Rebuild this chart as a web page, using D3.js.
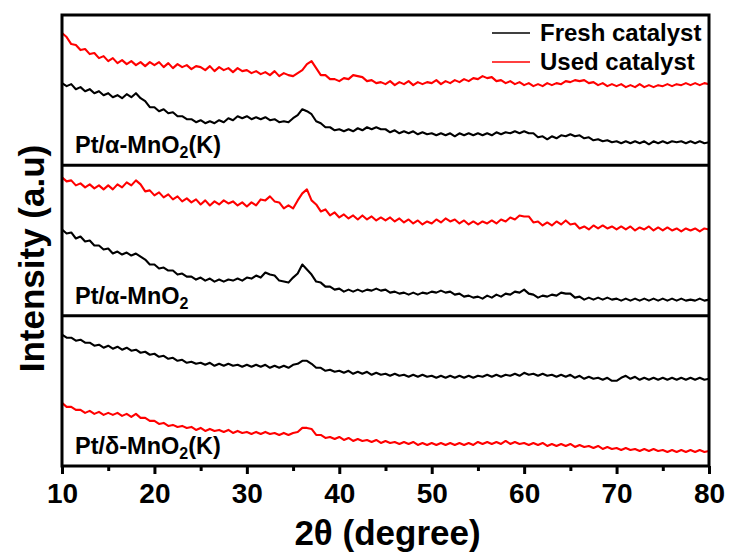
<!DOCTYPE html>
<html>
<head>
<meta charset="utf-8">
<script src="https://cdn.jsdelivr.net/npm/d3@7"></script>
<style>
  body { margin: 0; background: #fff; }
  svg text { font-family: "Liberation Sans", Arial, sans-serif; font-weight: bold; fill: #000; }
</style>
</head>
<body>
<svg id="chart" width="734" height="556"></svg>
<script>
'use strict';

// 2-theta grid of the scans (degree)
const theta = d3.range(10, 80.001, 0.5);
const xTicks = [10, 20, 30, 40, 50, 60, 70, 80];
const xMinorTicks = [15, 25, 35, 45, 55, 65, 75];

// intensities (a.u.), one value every 0.5 degree
const freshAlphaK = [
  82,79,81,76,78,74,76,72,74,70, 72,68,70,67,71,68,72,67,64,58,
  58,54,56,52,53,49,49,46,46,43, 45,42,44,42,45,43,47,45,49,47,
  49,46,48,46,48,45,46,43,44,43, 47,50,56,54,51,44,42,38,38,35,
  36,34,36,34,37,35,38,36,38,36, 36,33,35,32,34,32,34,31,33,31,
  32,30,32,30,32,29,32,30,32,30, 32,30,32,30,33,31,33,32,34,32,
  34,32,32,28,29,26,29,27,30,29, 31,29,30,27,28,25,26,24,25,23,
  24,22,24,22,24,22,24,21,24,22, 24,22,24,23,24,22,24,22,24,22,23
];
const usedAlphaK = [
  132,128,121,120,115,116,111,112,107,109, 104,107,102,105,101,104,100,103,99,103,
  100,103,98,102,97,101,98,100,96,99, 98,95,99,94,98,95,97,93,97,94,
  95,92,94,91,93,90,94,89,92,90, 89,92,95,101,104,97,90,90,86,86,
  84,87,86,90,89,88,84,85,82,83, 81,84,80,83,81,84,80,83,81,83,
  82,85,81,84,82,85,83,86,84,87, 86,89,87,88,84,85,82,84,81,83,
  80,82,79,81,79,82,80,82,81,84, 83,85,84,85,82,83,80,82,79,81,
  79,81,78,80,78,81,78,80,78,80, 79,81,79,81,80,82,80,82,80,82,81
];
const freshAlpha = [
  86,82,83,77,79,74,75,70,70,66, 67,62,64,61,63,60,62,59,56,51,
  51,47,48,45,45,41,42,39,39,36, 38,35,37,34,36,34,36,35,37,35,
  38,37,40,38,43,41,40,35,34,33, 38,42,51,46,41,34,33,29,29,26,
  27,24,26,24,26,24,26,25,27,25, 26,23,24,22,23,21,23,21,23,22,
  24,23,25,23,24,21,22,19,20,18, 19,17,20,18,21,19,22,21,24,23,
  26,22,21,18,20,19,21,20,23,22, 22,18,19,16,18,16,18,16,18,16,
  17,15,17,15,17,15,17,15,17,15, 17,15,17,15,17,15,16,15,17,15,16
];
const usedAlpha = [
  138,134,135,130,132,128,131,127,130,126, 130,126,131,128,133,130,135,131,124,125,
  120,123,118,121,116,119,114,117,113,116, 111,115,110,114,111,115,112,114,110,113,
  109,113,110,116,115,119,114,113,107,110, 107,115,122,126,115,111,104,106,100,103,
  98,101,97,100,96,100,96,99,95,98, 95,98,94,97,93,96,92,95,91,94,
  92,96,93,97,94,96,92,95,91,94, 91,94,92,95,92,96,94,98,96,100,
  99,99,93,94,90,93,90,94,91,95, 91,92,87,89,86,90,87,90,87,89,
  86,89,86,89,85,88,86,89,85,88, 85,88,85,87,84,87,85,87,84,87,86
];
const freshDeltaK = [
  131,128,128,125,126,123,123,120,121,118, 120,117,119,116,118,115,116,113,114,111,
  112,109,110,107,108,105,106,103,104,102, 103,101,103,100,102,100,102,100,101,99,
  101,99,101,99,101,98,100,98,100,98, 101,102,105,105,102,98,98,95,96,94,
  95,93,95,92,94,92,94,91,93,91, 92,90,92,90,91,89,91,89,91,89,
  90,88,90,88,90,88,90,88,90,88, 90,89,91,89,91,89,91,90,92,90,
  93,91,92,90,92,90,91,89,91,89, 91,88,90,87,89,87,88,86,88,85,
  85,88,90,87,89,86,88,86,88,86, 88,86,88,86,88,86,88,86,88,86,87
];
const usedDeltaK = [
  63,59,59,56,56,53,55,52,54,51, 53,51,53,50,52,49,52,48,48,45,
  45,42,43,40,41,39,40,38,39,36, 38,35,37,35,36,34,36,33,35,33,
  34,32,34,32,34,32,33,31,33,31, 33,34,38,38,37,31,31,28,29,27,
  29,26,28,25,27,25,26,24,26,23, 25,23,24,22,24,22,24,21,23,21,
  23,21,23,21,23,21,23,21,23,21, 24,22,24,22,24,22,25,22,24,22,
  23,21,23,21,23,20,22,20,22,20, 22,19,21,19,20,18,20,17,19,17,
  18,16,18,16,17,15,17,15,17,15, 16,14,16,14,16,14,16,14,16,14,15
];

const sampleNames = ["Pt/α-MnO|2|(K)", "Pt/α-MnO|2|", "Pt/δ-MnO|2|(K)"];
const legendLabels = ["Fresh catalyst", "Used catalyst"];
const colors = ["#000000", "#ff0000"];

const panels = [
  { name: sampleNames[0], fresh: freshAlphaK, used: usedAlphaK },
  { name: sampleNames[1], fresh: freshAlpha, used: usedAlpha },
  { name: sampleNames[2], fresh: freshDeltaK, used: usedDeltaK }
];

const svg = d3.select("#chart");
const margin = { left: 62, right: 25, top: 15, bottom: 90 };
const width = 734 - margin.left - margin.right;
const height = 556 - margin.top - margin.bottom;
const panelHeight = height / panels.length;

const x = d3.scaleLinear().domain([10, 80]).range([margin.left, margin.left + width]);

panels.forEach((p, i) => {
  const top = margin.top + i * panelHeight;
  const y = d3.scaleLinear().domain([0, 150]).range([top + panelHeight, top]);
  const line = d3.line().x((d, k) => x(theta[k])).y(d => y(d));

  // fresh first, used on top
  [p.fresh, p.used].forEach((series, s) => {
    svg.append("path")
      .datum(series)
      .attr("d", line)
      .attr("fill", "none")
      .attr("stroke", colors[s])
      .attr("stroke-width", 2.1)
      .attr("stroke-linejoin", "round");
  });

  // sample label with subscript
  const parts = p.name.split("|");
  const t = svg.append("text")
    .attr("x", margin.left + 13)
    .attr("y", top + panelHeight - 12)
    .style("font-size", "23.5px");
  t.append("tspan").text(parts[0]);
  t.append("tspan").text(parts[1]).attr("dy", 5).style("font-size", "16px");
  if (parts[2]) t.append("tspan").text(parts[2]).attr("dy", -5);

  if (i > 0) {
    svg.append("line")
      .attr("x1", margin.left).attr("x2", margin.left + width)
      .attr("y1", top).attr("y2", top)
      .attr("stroke", "#000").attr("stroke-width", 3);
  }
});

// frame
svg.append("rect")
  .attr("x", margin.left).attr("y", margin.top)
  .attr("width", width).attr("height", height)
  .attr("fill", "none").attr("stroke", "#000").attr("stroke-width", 3);

// bottom axis
const axis = d3.axisBottom(x).tickValues(xTicks).tickSize(8).tickSizeOuter(0).tickPadding(9);
const gx = svg.append("g")
  .attr("transform", `translate(0,${margin.top + height})`)
  .call(axis);
gx.select(".domain").remove();
gx.selectAll(".tick line").attr("stroke-width", 3);
gx.selectAll(".tick text").style("font-size", "28px").attr("font-family", null);

const gm = svg.append("g")
  .attr("transform", `translate(0,${margin.top + height})`)
  .call(d3.axisBottom(x).tickValues(xMinorTicks).tickSize(5).tickFormat(""));
gm.select(".domain").remove();
gm.selectAll(".tick line").attr("stroke-width", 3);

// axis titles
svg.append("text")
  .attr("x", margin.left + width / 2 + 2)
  .attr("y", 545)
  .attr("text-anchor", "middle")
  .style("font-size", "35px")
  .text("2θ (degree)");

svg.append("text")
  .attr("transform", `translate(44,${margin.top + height / 2 + 18}) rotate(-90)`)
  .attr("text-anchor", "middle")
  .style("font-size", "35px")
  .text("Intensity (a.u)");

// legend
legendLabels.forEach((label, i) => {
  const ly = 33 + i * 29;
  svg.append("line")
    .attr("x1", 492).attr("x2", 530)
    .attr("y1", ly).attr("y2", ly)
    .attr("stroke", colors[i]).attr("stroke-width", 1.5);
  svg.append("text")
    .attr("x", 540).attr("y", ly + 8)
    .style("font-size", "24px")
    .text(label);
});
</script>
</body>
</html>
